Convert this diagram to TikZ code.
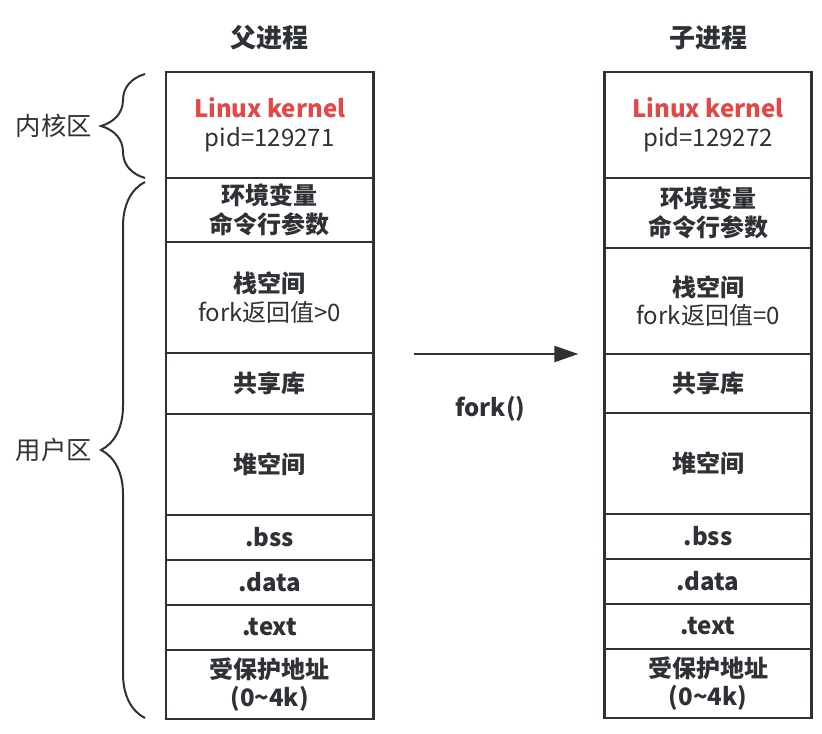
\documentclass[tikz,border=0pt]{standalone}
\usepackage{fontspec}
\setmainfont{Noto Sans CJK SC}
\usetikzlibrary{arrows.meta,positioning,calc,decorations.pathreplacing}
\definecolor{ink}{RGB}{46,49,53}
\definecolor{kred}{RGB}{229,70,70}

\begin{document}
\begin{tikzpicture}[x=0.75pt, y=-0.75pt, text=ink,
  cell/.style={draw=ink, line width=1.9pt, outer sep=0pt, inner sep=0pt, align=center,
     minimum width=155.5pt, font=\fontsize{18}{21.5}\selectfont\bfseries},
  title/.style={inner sep=0pt, font=\fontsize{19.5}{22}\selectfont\bfseries},
  zone/.style={inner sep=0pt, font=\fontsize{19}{22}\selectfont},
  curly/.style={draw=ink, line width=1.5pt, decorate, decoration={brace, amplitude=33pt}}]
  \useasboundingbox (0,0) rectangle (822,733);
  % parent process
  \node[cell, minimum height=79.5pt, anchor=north west] (pkern) at (166,72) {\textcolor{kred}{Linux kernel}\\ \mdseries pid=129271};
  \node[cell, minimum height=48pt, below=0pt of pkern] (penv) {环境变量\\命令行参数};
  \node[cell, minimum height=83.25pt, below=0pt of penv] (pstack) {栈空间\\ \mdseries fork返回值>0};
  \node[cell, minimum height=45.75pt, below=0pt of pstack] (pshare) {共享库};
  \node[cell, minimum height=75.75pt, below=0pt of pshare] (pheap) {堆空间};
  \node[cell, minimum height=33.75pt, below=0pt of pheap] (pbss) {.bss};
  \node[cell, minimum height=33.75pt, below=0pt of pbss] (pdata) {.data};
  \node[cell, minimum height=33.75pt, below=0pt of pdata] (ptext) {.text};
  \node[cell, minimum height=51.75pt, below=0pt of ptext] (pprot) {受保护地址\\(0\textasciitilde4k)};
  % child process
  \node[cell, minimum height=79.5pt, right=173.25pt of pkern] (ckern) {\textcolor{kred}{Linux kernel}\\ \mdseries pid=129272};
  \node[cell, minimum height=52.5pt, below=0pt of ckern] (cenv) {环境变量\\命令行参数};
  \node[cell, minimum height=79.5pt, below=0pt of cenv] (cstack) {栈空间\\ \mdseries fork返回值=0};
  \node[cell, minimum height=44.25pt, below=0pt of cstack] (cshare) {共享库};
  \node[cell, minimum height=75.75pt, below=0pt of cshare] (cheap) {堆空间};
  \node[cell, minimum height=33.75pt, below=0pt of cheap] (cbss) {.bss};
  \node[cell, minimum height=33.75pt, below=0pt of cbss] (cdata) {.data};
  \node[cell, minimum height=33.75pt, below=0pt of cdata] (ctext) {.text};
  \node[cell, minimum height=51.75pt, below=0pt of ctext] (cprot) {受保护地址\\(0\textasciitilde4k)};
  \node[title, above=16pt of pkern] (ptitle) {父进程};
  \node[title, above=16pt of ckern] (ctitle) {子进程};
  % fork arrow
  \coordinate (fb) at ($(cstack.south west)+(-26,0)$);
  \coordinate (fa) at ($(pstack.east |- fb)+(41,0)$);
  \draw[draw=ink, line width=1.6pt, -{Triangle[length=18pt, width=12pt]}] (fa) -- (fb);
  \node[title, font=\fontsize{18}{21}\selectfont\bfseries] (forklbl) at ($(fa)!0.5!(fb)+(-6,55)$) {fork()};
  % braces
  \coordinate (kt) at ($(pkern.north west)+(-21,2)$);
  \coordinate (kb) at ($(pkern.south west)+(-21,0)$);
  \coordinate (ut) at ($(penv.north west)+(-21,4)$);
  \coordinate (ub) at ($(pprot.south west)+(-21,-1)$);
  \draw[curly] (kb) -- (kt);
  \draw[curly] (ub) -- (ut);
  \node[zone, left=6pt of {$(kt)!0.5!(kb)+(-45,0)$}] (kzone) {内核区};
  \node[zone, left=6pt of {$(ut)!0.5!(ub)+(-45,0)$}] (uzone) {用户区};
\end{tikzpicture}
\end{document}
